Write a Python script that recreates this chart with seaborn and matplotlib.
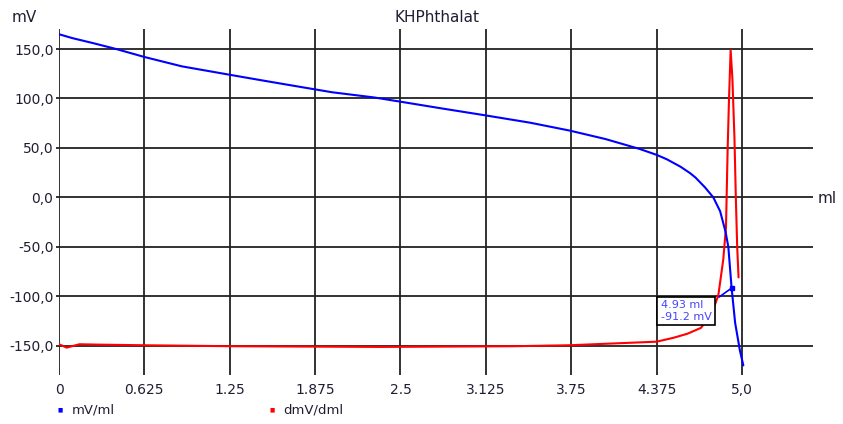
import numpy as np
import pandas as pd
import matplotlib.pyplot as plt
import seaborn as sns

# titration curve (mV)
ml_mv = [0, 0.1, 0.25, 0.42, 0.625, 0.9, 1.25, 1.5, 1.764, 2.0, 2.31, 2.49,
         2.8, 3.119, 3.45, 3.74, 4.0, 4.25, 4.375, 4.45, 4.55, 4.62, 4.66,
         4.73, 4.79, 4.84, 4.88, 4.90, 4.924, 4.95, 4.985, 5.01]
mv = [165, 161, 156, 150, 142, 132.5, 124, 118, 111.8, 106.3, 101, 97,
      90, 83, 75.5, 67.5, 59, 49, 43, 38.5, 31, 24.5, 20,
      10, 0, -14, -35, -50, -91.5, -127, -155, -170]

# first derivative (dmV/dml), drawn on the same axis
ml_d = [0, 0.056, 0.15, 0.3, 0.615, 1.27, 2.35, 3.33, 3.74, 4.375, 4.5,
        4.6, 4.7, 4.78, 4.827, 4.863, 4.883, 4.895, 4.905, 4.917, 4.93,
        4.945, 4.955, 4.965, 4.975]
dmv = [-148.6, -152, -148.6, -149, -149.6, -150.6, -151.3, -150.6, -149.6,
       -146, -142, -138, -132, -117, -99, -63, -30, 48, 99, 149, 120,
       60, 0, -50, -81]

xticks = [0, 0.625, 1.25, 1.875, 2.5, 3.125, 3.75, 4.375, 5.0]
xtick_labels = ['0', '0.625', '1.25', '1.875', '2.5', '3.125', '3.75', '4.375', '5,0']
yticks = [-150, -100, -50, 0, 50, 100, 150]
ytick_labels = ['-150,0', '-100,0', '-50,0', '0,0', '50,0', '100,0', '150,0']

marker_x, marker_y = 4.93, -91.2

sns.set_theme(style='white')
plt.rcParams['font.family'] = ['DejaVu Sans']

fig = plt.figure(figsize=(8.43, 4.24), dpi=100)
ax = fig.add_axes([59 / 843, 1 - 375 / 424, (813 - 59) / 843, (375 - 29) / 424])

df_mv = pd.DataFrame({'ml': ml_mv, 'val': mv})
df_d = pd.DataFrame({'ml': ml_d, 'val': dmv})
sns.lineplot(data=df_mv, x='ml', y='val', sort=False, color='#0000ff', lw=1.5, ax=ax, zorder=4)
sns.lineplot(data=df_d, x='ml', y='val', sort=False, color='#ff0000', lw=1.5, ax=ax, zorder=3)

ax.set_xlim(0, 5.52)
ax.set_ylim(-179.7, 170.3)
ax.set_xticks(xticks)
ax.set_xticklabels(xtick_labels)
ax.set_yticks(yticks)
ax.set_yticklabels(ytick_labels)
ax.set_xlabel('')
ax.set_ylabel('')
for s in ax.spines.values():
    s.set_visible(False)
ax.grid(True, color='#222222', lw=1.3)
ax.set_axisbelow(True)
ax.tick_params(axis='x', length=0, pad=6, labelsize=10, labelcolor='#1f1f33')
ax.tick_params(axis='y', length=2, width=1.3, color='#222222', pad=2,
               labelsize=10, labelcolor='#1f1f33', left=True)

# cursor readout box
ax.plot([4.832, marker_x], [-100.9, marker_y], color='#0000ff', lw=1.2, zorder=6)
ax.plot([marker_x], [marker_y], marker='s', ms=3.5, color='#0000ff', zorder=7)
ax.text(4.405, -104, '4.93 ml\n-91.2 mV', color='#4444ff', fontsize=8,
        va='top', ha='left', linespacing=1.25, zorder=8,
        bbox=dict(boxstyle='square,pad=0.3', fc='white', ec='black', lw=1.2))

fig.text(437 / 843, 1 - 17 / 424, 'KHPhthalat', ha='center', va='center',
         fontsize=11, color='#1f1f33')
fig.text(12 / 843, 1 - 18 / 424, 'mV', ha='left', va='center', fontsize=11, color='#1f1f33')
fig.text(818 / 843, 1 - 198 / 424, 'ml', ha='left', va='center', fontsize=11, color='#1f1f33')

# legend
fig.text(60 / 843, 1 - 410 / 424, '■', color='#0000ff', fontsize=4, ha='center', va='center')
fig.text(72 / 843, 1 - 410 / 424, 'mV/ml', color='#1f1f33', fontsize=9.5, ha='left', va='center')
fig.text(272 / 843, 1 - 410 / 424, '■', color='#ff0000', fontsize=4, ha='center', va='center')
fig.text(283 / 843, 1 - 410 / 424, 'dmV/dml', color='#1f1f33', fontsize=9.5, ha='left', va='center')

fig.savefig('out.png', dpi=100)
